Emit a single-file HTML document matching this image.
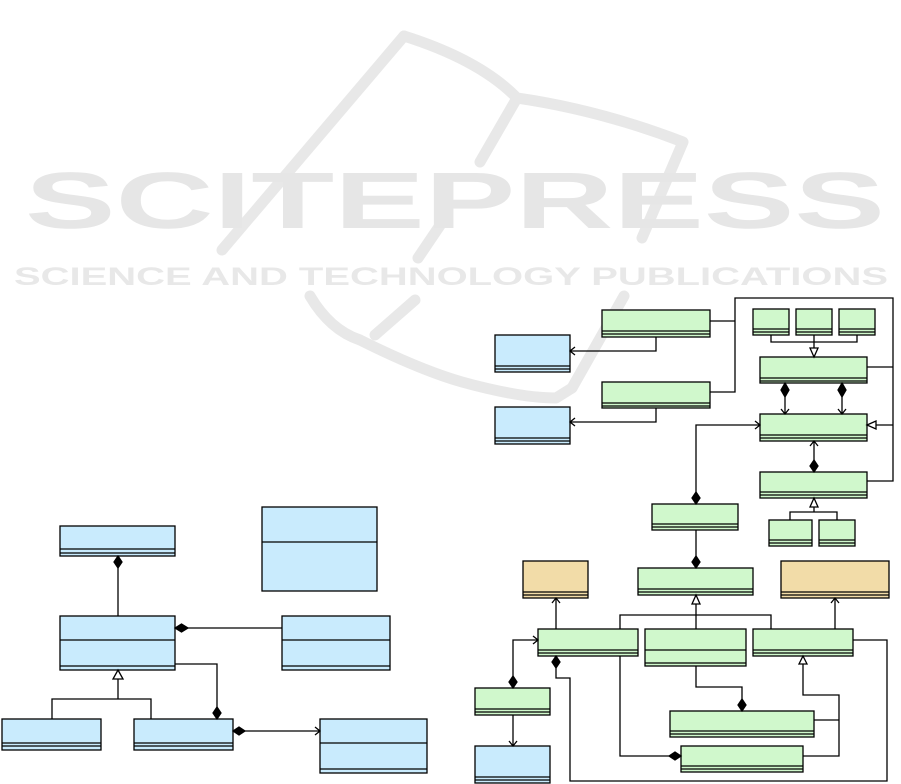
<!DOCTYPE html>
<html><head><meta charset="utf-8"><style>html,body{margin:0;padding:0;background:#fff}svg{display:block}</style></head>
<body>
<svg width="901" height="784" viewBox="0 0 901 784" xmlns="http://www.w3.org/2000/svg" font-family="Liberation Sans, sans-serif">
<!-- watermark -->
<g fill="none" stroke="#e8e8e8" stroke-width="11" stroke-linejoin="round" stroke-linecap="round">
<path d="M404,36 L222,250"/>
<path d="M404,36 Q480,60 517,98 Q600,110 683,142 L642,238"/>
<path d="M517,98 L480,162"/>
<path d="M445,218 L418,258"/>
<path d="M310,296 Q330,330 360,340 Q420,370 462,382 Q520,398 556,398 L572,388 L624,296"/>
<path d="M415,300 L375,335"/>
</g>
<text x="455" y="228" text-anchor="middle" font-size="80" font-weight="bold" fill="#e6e6e6" textLength="860" lengthAdjust="spacingAndGlyphs">SCITEPRESS</text>
<text x="451" y="285" text-anchor="middle" font-size="25" font-weight="bold" fill="#e8e8e8" textLength="874" lengthAdjust="spacingAndGlyphs">SCIENCE AND TECHNOLOGY PUBLICATIONS</text>

<g stroke="#000" stroke-width="1.3">
<!-- LEFT DIAGRAM boxes -->
<g fill="#c9ebfd">
<rect x="60" y="526" width="115" height="30"/><line x1="60" y1="549" x2="175" y2="549"/><line x1="60" y1="553" x2="175" y2="553"/>
<rect x="262" y="507" width="115" height="84"/><line x1="262" y1="542" x2="377" y2="542"/>
<rect x="60" y="616" width="115" height="54"/><line x1="60" y1="640" x2="175" y2="640"/><line x1="60" y1="666" x2="175" y2="666"/>
<rect x="282" y="616" width="108" height="54"/><line x1="282" y1="640" x2="390" y2="640"/><line x1="282" y1="666" x2="390" y2="666"/>
<rect x="2" y="719" width="99" height="31"/><line x1="2" y1="743" x2="101" y2="743"/><line x1="2" y1="746" x2="101" y2="746"/>
<rect x="134" y="719" width="99" height="31"/><line x1="134" y1="743" x2="233" y2="743"/><line x1="134" y1="746" x2="233" y2="746"/>
<rect x="320" y="719" width="107" height="54"/><line x1="320" y1="743" x2="427" y2="743"/><line x1="320" y1="769" x2="427" y2="769"/>
</g>
<g fill="none">
<line x1="118" y1="568" x2="118" y2="616"/>
<line x1="188" y1="628" x2="282" y2="628"/>
<polyline points="175,664 217,664 217,707"/>
<polyline points="52,719 52,699 151,699 151,719"/><line x1="118" y1="699" x2="118" y2="679"/>
<line x1="245" y1="731" x2="320" y2="731"/><polyline points="315,727 320,731 315,735"/>
</g>
<g fill="#000">
<path d="M118,556 L122,562 L118,568 L114,562Z"/>
<path d="M175,628 L181.5,624 L188,628 L181.5,632Z"/>
<path d="M217,707 L221,713 L217,719 L213,713Z"/>
<path d="M233,731 L239,727 L245,731 L239,735Z"/>
</g>
<path d="M118,670 L123,679 L113,679Z" fill="#fff"/>

<!-- RIGHT DIAGRAM boxes -->
<g fill="#c9ebfd">
<rect x="495" y="335" width="75" height="37"/><line x1="495" y1="366" x2="570" y2="366"/><line x1="495" y1="369" x2="570" y2="369"/>
<rect x="495" y="407" width="75" height="37"/><line x1="495" y1="438" x2="570" y2="438"/><line x1="495" y1="441" x2="570" y2="441"/>
<rect x="475" y="746" width="75" height="37"/><line x1="475" y1="777" x2="550" y2="777"/><line x1="475" y1="780" x2="550" y2="780"/>
</g>
<g fill="#f2dca8">
<rect x="523" y="561" width="65" height="37"/><line x1="523" y1="592" x2="588" y2="592"/><line x1="523" y1="595" x2="588" y2="595"/>
<rect x="781" y="561" width="108" height="37"/><line x1="781" y1="592" x2="889" y2="592"/><line x1="781" y1="595" x2="889" y2="595"/>
</g>
<g fill="#d0f8cc">
<rect x="602" y="310" width="108" height="27"/><line x1="602" y1="331" x2="710" y2="331"/><line x1="602" y1="334" x2="710" y2="334"/>
<rect x="602" y="382" width="108" height="26"/><line x1="602" y1="403" x2="710" y2="403"/><line x1="602" y1="406" x2="710" y2="406"/>
<rect x="753" y="309" width="36" height="26"/><line x1="753" y1="329" x2="789" y2="329"/><line x1="753" y1="332" x2="789" y2="332"/>
<rect x="796" y="309" width="36" height="26"/><line x1="796" y1="329" x2="832" y2="329"/><line x1="796" y1="332" x2="832" y2="332"/>
<rect x="839" y="309" width="36" height="26"/><line x1="839" y1="329" x2="875" y2="329"/><line x1="839" y1="332" x2="875" y2="332"/>
<rect x="760" y="357" width="107" height="26"/><line x1="760" y1="378" x2="867" y2="378"/><line x1="760" y1="381" x2="867" y2="381"/>
<rect x="760" y="414" width="107" height="27"/><line x1="760" y1="435" x2="867" y2="435"/><line x1="760" y1="438" x2="867" y2="438"/>
<rect x="760" y="472" width="107" height="26"/><line x1="760" y1="492" x2="867" y2="492"/><line x1="760" y1="495" x2="867" y2="495"/>
<rect x="769" y="520" width="43" height="26"/><line x1="769" y1="540" x2="812" y2="540"/><line x1="769" y1="543" x2="812" y2="543"/>
<rect x="819" y="520" width="36" height="26"/><line x1="819" y1="540" x2="855" y2="540"/><line x1="819" y1="543" x2="855" y2="543"/>
<rect x="652" y="504" width="86" height="26"/><line x1="652" y1="524" x2="738" y2="524"/><line x1="652" y1="527" x2="738" y2="527"/>
<rect x="638" y="568" width="115" height="27"/><line x1="638" y1="589" x2="753" y2="589"/><line x1="638" y1="592" x2="753" y2="592"/>
<rect x="538" y="629" width="100" height="27"/><line x1="538" y1="650" x2="638" y2="650"/><line x1="538" y1="653" x2="638" y2="653"/>
<rect x="645" y="629" width="101" height="37"/><line x1="645" y1="650" x2="746" y2="650"/><line x1="645" y1="663" x2="746" y2="663"/>
<rect x="753" y="629" width="100" height="27"/><line x1="753" y1="650" x2="853" y2="650"/><line x1="753" y1="653" x2="853" y2="653"/>
<rect x="475" y="688" width="75" height="27"/><line x1="475" y1="709" x2="550" y2="709"/><line x1="475" y1="712" x2="550" y2="712"/>
<rect x="670" y="711" width="144" height="26"/><line x1="670" y1="731" x2="814" y2="731"/><line x1="670" y1="734" x2="814" y2="734"/>
<rect x="681" y="746" width="122" height="26"/><line x1="681" y1="766" x2="803" y2="766"/><line x1="681" y1="769" x2="803" y2="769"/>
</g>

<g fill="none">
<polyline points="710,321 735,321"/>
<polyline points="710,392 735,392 735,298 893,298 893,481 867,481"/>
<line x1="867" y1="367" x2="893" y2="367"/>
<line x1="876" y1="425" x2="893" y2="425"/>
<polyline points="656,337 656,351 570,351"/><polyline points="575,347 570,351 575,355"/>
<polyline points="656,408 656,422 570,422"/><polyline points="575,418 570,422 575,426"/>
<polyline points="771,335 771,342 857,342 857,335"/><line x1="814" y1="335" x2="814" y2="348"/>
<line x1="785" y1="397" x2="785" y2="414"/><polyline points="781,409 785,414 789,409"/>
<line x1="842" y1="397" x2="842" y2="414"/><polyline points="838,409 842,414 846,409"/>
<line x1="814" y1="460" x2="814" y2="441"/><polyline points="810,446 814,441 818,446"/>
<polyline points="696,492 696,425 760,425"/><polyline points="755,421 760,425 755,429"/>
<polyline points="790,520 790,512 837,512 837,520"/><line x1="814" y1="512" x2="814" y2="507"/>
<line x1="696" y1="530" x2="696" y2="556"/>
<polyline points="620,629 620,615 771,615 771,629"/><line x1="696" y1="604" x2="696" y2="629"/>
<line x1="556" y1="629" x2="556" y2="598"/><polyline points="552,603 556,598 560,603"/>
<line x1="835" y1="629" x2="835" y2="598"/><polyline points="831,603 835,598 839,603"/>
<polyline points="513,676 513,640 538,640"/><polyline points="533,636 538,640 533,644"/>
<line x1="513" y1="715" x2="513" y2="746"/><polyline points="509,741 513,746 517,741"/>
<polyline points="556,668 556,678 570,678 570,781 887,781 887,640 853,640"/>
<polyline points="620,656 620,756 669,756"/>
<polyline points="696,666 696,687 742,687 742,699"/>
<polyline points="803,664 803,695 839,695 839,756 803,756"/>
<line x1="814" y1="720" x2="839" y2="720"/>
</g>
<g fill="#000">
<path d="M785,383 L789,390 L785,397 L781,390Z"/>
<path d="M842,383 L846,390 L842,397 L838,390Z"/>
<path d="M814,460 L818,466 L814,472 L810,466Z"/>
<path d="M696,492 L700,498 L696,504 L692,498Z"/>
<path d="M696,556 L700,562 L696,568 L692,562Z"/>
<path d="M513,676 L517,682 L513,688 L509,682Z"/>
<path d="M556,656 L560,662 L556,668 L552,662Z"/>
<path d="M669,756 L675,752 L681,756 L675,760Z"/>
<path d="M742,699 L746,705 L742,711 L738,705Z"/>
</g>
<g fill="#fff">
<path d="M814,357 L810,348 L818,348Z"/>
<path d="M867,425 L876,421 L876,429Z"/>
<path d="M814,498 L818,507 L810,507Z"/>
<path d="M696,595 L700,604 L692,604Z"/>
<path d="M803,656 L807,664 L799,664Z"/>
</g>
</g>
</svg>
</body></html>
